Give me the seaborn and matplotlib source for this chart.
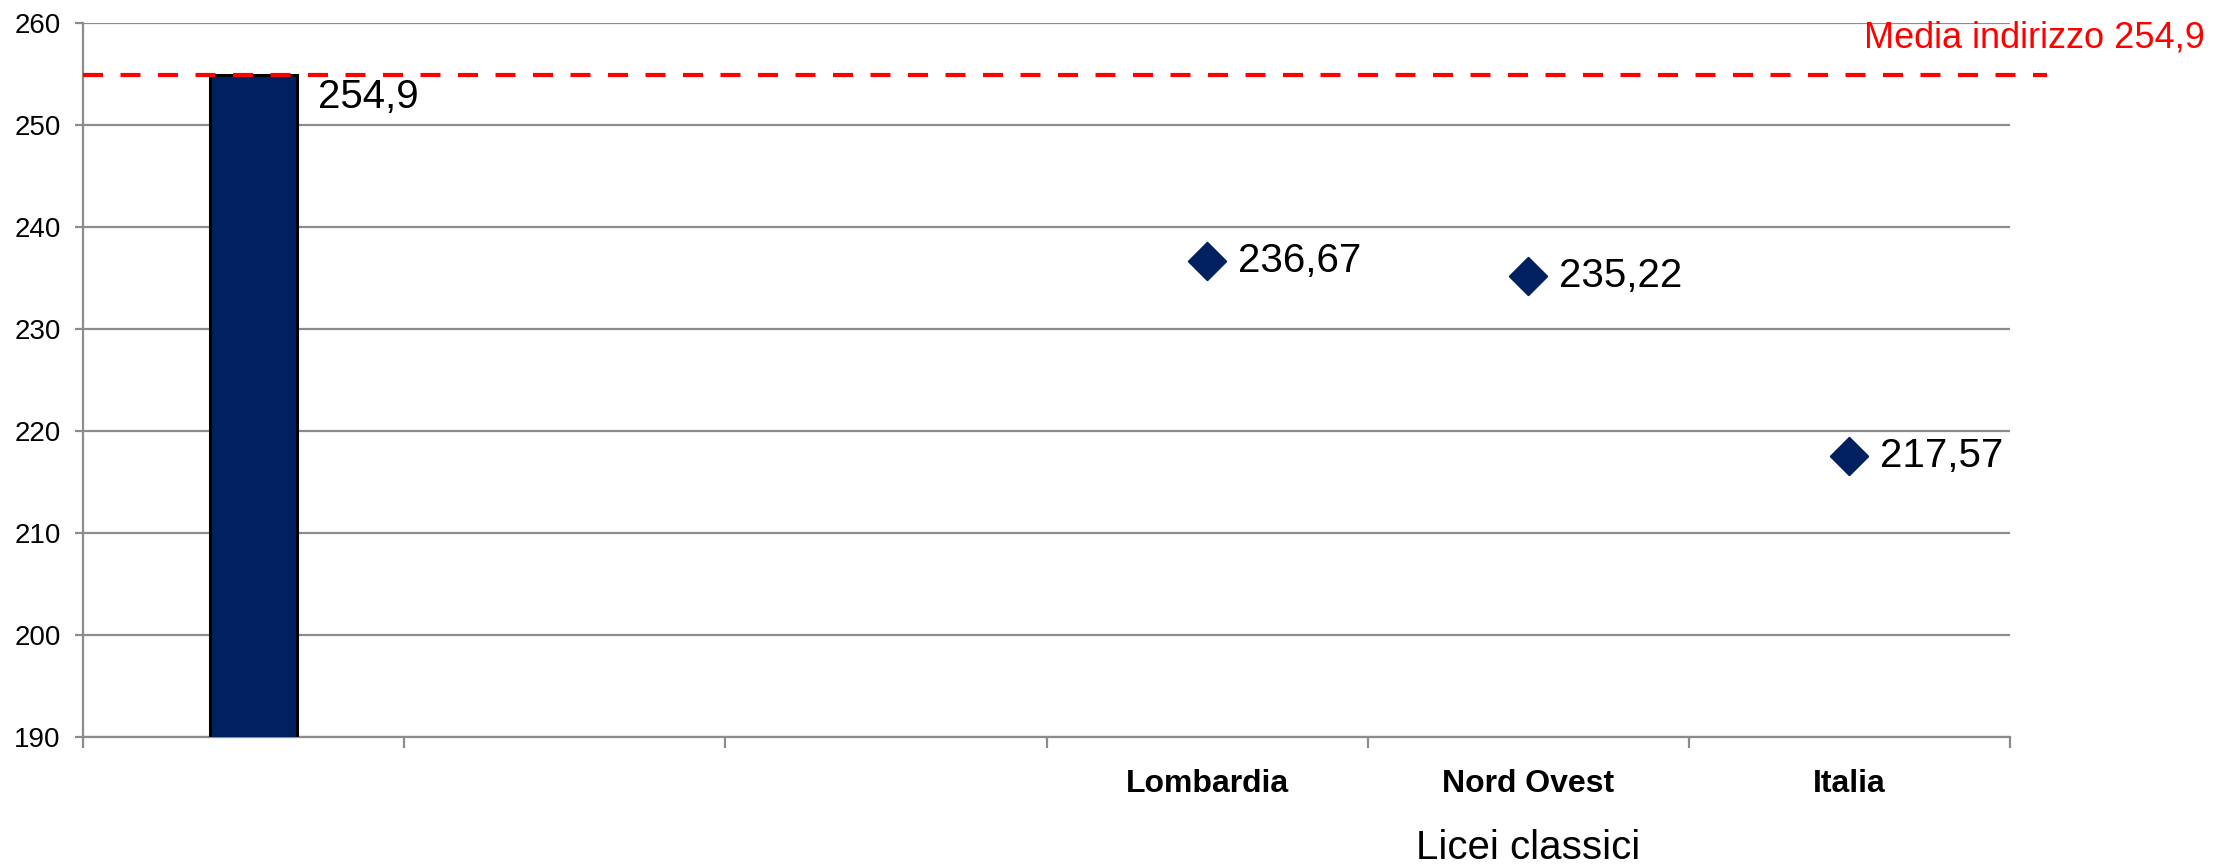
import numpy as np
import pandas as pd
import matplotlib
matplotlib.use("Agg")
import matplotlib.pyplot as plt
import seaborn as sns

# slots on the category axis (first one is the school bar, two empty slots)
slots = ["scuola", "vuoto1", "vuoto2", "Lombardia", "Nord Ovest", "Italia"]
tick_labels = ["", "", "", "Lombardia", "Nord Ovest", "Italia"]
group_label = "Licei classici"

school_slot = ["scuola"]
school_value = [254.9]

ref_areas = ["Lombardia", "Nord Ovest", "Italia"]
ref_values = [236.67, 235.22, 217.57]

media_indirizzo = 254.9
y_ticks = [190, 200, 210, 220, 230, 240, 250, 260]

navy = "#002060"
grid_gray = "#8c8c8c"

sns.set_theme(style="white")
plt.rcParams["font.family"] = ["Liberation Sans", "DejaVu Sans"]
plt.rcParams["text.color"] = "black"
plt.rcParams["xtick.color"] = "black"
plt.rcParams["ytick.color"] = "black"

fig = plt.figure(figsize=(22.13, 8.65), dpi=100)
ax = fig.add_axes([83 / 2213, 1 - 737 / 865, (2010 - 83) / 2213, (737 - 23) / 865])

bars = pd.DataFrame({"slot": school_slot, "val": school_value})
sns.barplot(data=bars, x="slot", y="val", order=slots, color=navy, width=0.27,
            edgecolor="black", linewidth=2.2, saturation=1, ax=ax, zorder=3)
# the bar sits a little right of its slot centre in the original
for p in ax.patches:
    p.set_x(p.get_x() + 0.03)

pts = pd.DataFrame({"slot": ref_areas, "val": ref_values})
sns.stripplot(data=pts, x="slot", y="val", order=slots, marker="D", jitter=False,
              color=navy, size=19, linewidth=1.5, edgecolor=navy, ax=ax, zorder=4)

# labels next to the marks
for v in school_value:
    ax.annotate(str(v).replace(".", ","), xy=(0.17, v), xytext=(14, -16),
                textcoords="offset points", fontsize=29, va="center", ha="left")
for s, v in zip(ref_areas, ref_values):
    ax.annotate(f"{v:.2f}".replace(".", ","), xy=(slots.index(s), v), xytext=(22, 0),
                textcoords="offset points", fontsize=29, va="center", ha="left")

# average line
ax.axhline(media_indirizzo, xmin=0, xmax=1.019, color="red", lw=3,
           ls=(0, (4.8, 4.2)), clip_on=False, zorder=5)
fig.text(2205 / 2213, 1 - 38 / 865, "Media indirizzo " + str(media_indirizzo).replace(".", ","),
         color="red", fontsize=26, ha="right", va="center")

ax.set_ylim(190, 260)
ax.set_xlim(-0.5, len(slots) - 0.5)
ax.set_yticks(y_ticks)
ax.yaxis.grid(True, color=grid_gray, lw=1.6)
ax.set_axisbelow(True)
ax.tick_params(axis="y", which="major", direction="out", length=6, width=1.6,
               color=grid_gray, labelsize=20, pad=10, left=True)

ax.set_xticks(range(len(slots)))
ax.set_xticklabels(tick_labels, fontsize=23, fontweight="semibold")
ax.tick_params(axis="x", which="major", length=0, pad=23)
ax.set_xticks(np.arange(-0.5, len(slots)), minor=True)
ax.tick_params(axis="x", which="minor", direction="out", length=8, width=1.6,
               color=grid_gray, bottom=True)

ax.annotate(group_label, xy=(slots.index("Nord Ovest"), 0), xycoords=("data", "axes fraction"),
            xytext=(0, -80), textcoords="offset points", fontsize=29, ha="center", va="center")

ax.set_xlabel("")
ax.set_ylabel("")
for side in ["top", "right"]:
    ax.spines[side].set_visible(False)
for side in ["left", "bottom"]:
    ax.spines[side].set_color(grid_gray)
    ax.spines[side].set_linewidth(1.6)

fig.savefig("out.png", dpi=100)
